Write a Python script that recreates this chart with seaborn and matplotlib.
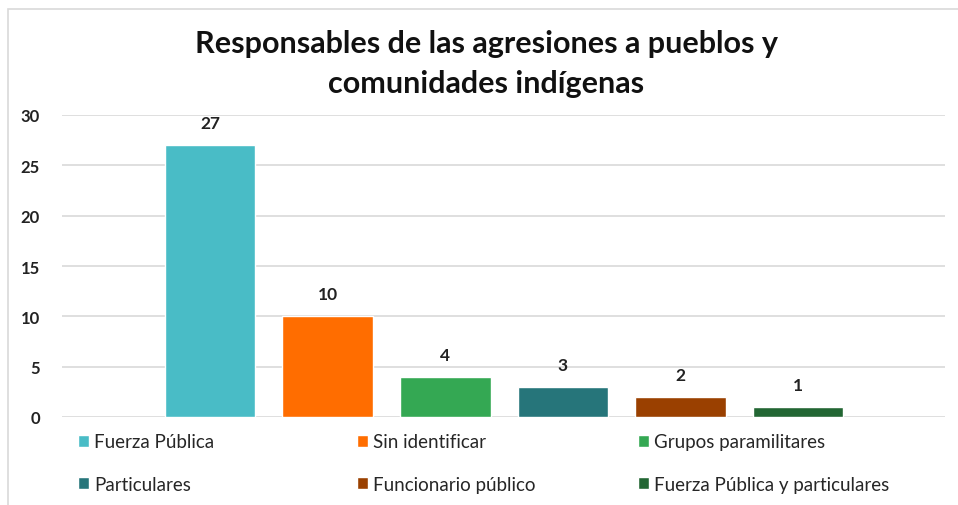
import matplotlib.pyplot as plt
import matplotlib.patches as mpatches
import seaborn as sns
import pandas as pd

# ── DATA ──────────────────────────────────────────
responsables = ['Fuerza Pública', 'Sin identificar', 'Grupos paramilitares',
                'Particulares', 'Funcionario público', 'Fuerza Pública y particulares']
casos = [27, 10, 4, 3, 2, 1]
colores = ['#49BCC6', '#FF6D00', '#34A853', '#26757A', '#9A4000', '#226633']
yticks = [0, 5, 10, 15, 20, 25, 30]

df = pd.DataFrame({'responsable': responsables, 'casos': casos})

# ── STYLE ─────────────────────────────────────────
sns.set_theme(style='white')
plt.rcParams['font.family'] = ['Lato', 'DejaVu Sans']

fig = plt.figure(figsize=(9.58, 5.06), dpi=100)
ax = fig.add_axes([62 / 958, 1 - 418 / 506, (945 - 62) / 958, (418 - 116) / 506])

# chart frame
fig.patches.append(mpatches.Rectangle((8 / 958, -0.05), 1.0, 1.05 - 10 / 506,
                                      transform=fig.transFigure, fill=False,
                                      edgecolor='#D9D9D9', linewidth=1.2))

sns.barplot(data=df, x='responsable', y='casos', hue='responsable',
            order=responsables, hue_order=responsables, palette=colores,
            width=0.77, ax=ax, legend=True, saturation=1)

for c in ax.containers:
    ax.bar_label(c, padding=10, fontsize=12.5, fontweight='bold', color='#222222')

ax.set_ylim(0, 30)
ax.set_xlim(-1.26, 6.25)
ax.set_yticks(yticks)
ax.set_yticklabels([str(v) for v in yticks], fontsize=12, fontweight='bold', color='#222222')
ax.tick_params(axis='y', length=0, pad=16)
ax.set_xticks([])
ax.set_xlabel('')
ax.set_ylabel('')
ax.yaxis.grid(True, color='#D9D9D9', linewidth=1.2)
ax.set_axisbelow(True)
for s in ax.spines.values():
    s.set_visible(False)

fig.suptitle('Responsables de las agresiones a pueblos y\ncomunidades indígenas',
             x=486 / 958, y=1 - 30 / 506, fontsize=22, fontweight='bold',
             color='#111111', linespacing=1.5)

# legend: three columns, two rows
handles, labels = ax.get_legend_handles_labels()
ax.get_legend().remove()
col_x = [70, 349, 630]
for i, x in enumerate(col_x):
    fig.legend([handles[i], handles[i + 3]], [labels[i], labels[i + 3]],
               loc='upper left', bbox_to_anchor=(x / 958, 1 - 427 / 506),
               frameon=False, fontsize=13.5, handlelength=0.6, handleheight=0.6,
               handletextpad=0.3, labelspacing=1.35, borderaxespad=0)

fig.savefig('out.png', dpi=100)
